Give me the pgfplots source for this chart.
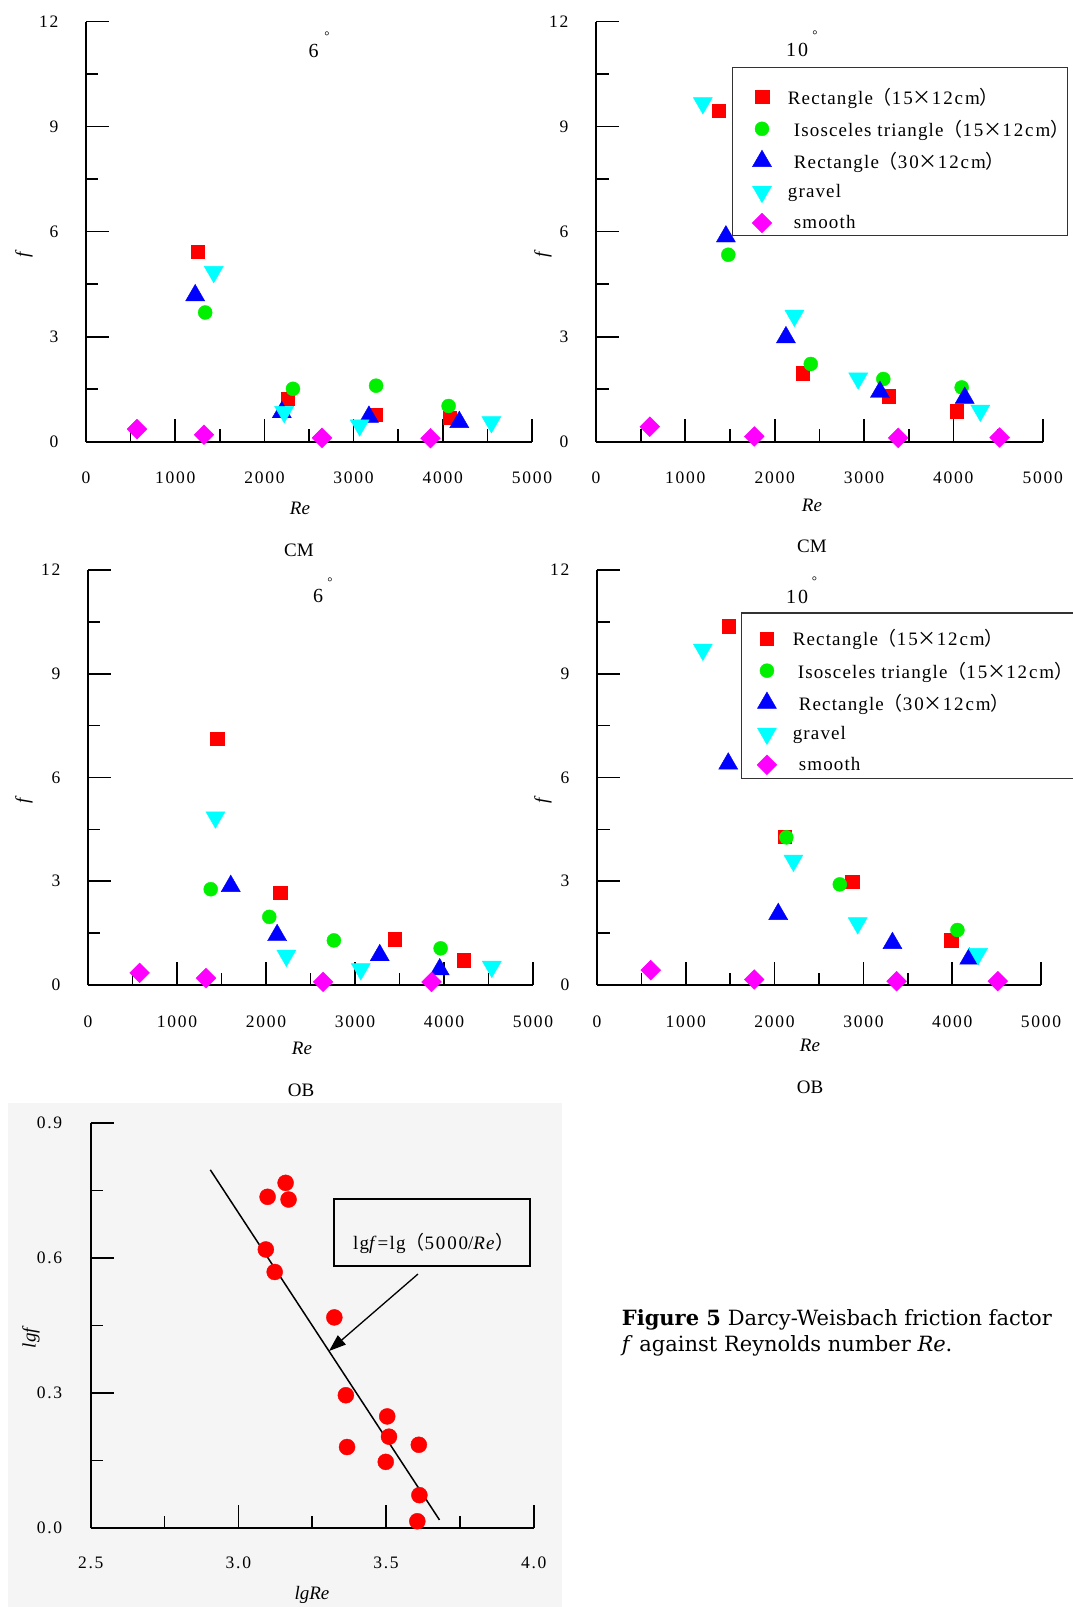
\documentclass[border=0pt]{standalone}
\usepackage{fontspec}
\setmainfont{Liberation Serif}
\newfontfamily\tkfamily[LetterSpace=10]{Liberation Serif}
\newfontfamily\lgfamily[LetterSpace=6]{Liberation Serif}
\newfontfamily\cjk{Noto Sans CJK SC}
\newfontfamily\capfamily{DejaVu Serif}
\usepackage{pgfplots}
\pgfplotsset{compat=1.18}
\usetikzlibrary{arrows.meta}

\definecolor{mred}{HTML}{FF0000}
\definecolor{mgreen}{HTML}{00F000}
\definecolor{mblue}{HTML}{0000FF}
\definecolor{mcyan}{HTML}{00FFFF}
\definecolor{mmag}{HTML}{FF00FF}

\newcommand\tkfont{\tkfamily\fontsize{17.5}{20}\selectfont}
\newcommand\lgfont{\lgfamily\fontsize{19}{22}\selectfont}
\newcommand\lbfont{\fontsize{19}{22}\selectfont}
\newcommand\angfont{\tkfamily\fontsize{20}{22}\selectfont}
\newcommand\lp{{\cjk （}}
\newcommand\rp{{\cjk ）}}
% (15x12cm) with wide digits and a full-width times sign
\newcommand\dims[2]{\lp{\tkfamily #1}\makebox[1em]{\cjk ×}{\tkfamily #2cm}\rp}

\pgfplotsset{
  base panel/.style={
    scale only axis,
    axis x line=bottom,
    axis y line=left,
    axis line style={-, line width=1.7pt, black},
    tick align=inside,
    major tick length=23pt,
    minor tick length=12.5pt,
    tick style={line width=1.7pt, black},
    minor x tick num=1,
    minor y tick num=1,
    xticklabel style={yshift=-27pt},
    yticklabel style={xshift=-24pt},
    ticklabel style={font=\tkfont},
    /pgf/number format/1000 sep={},
    /pgf/number format/assume math mode=true,
    clip=false,
  },
  f panel/.style={
    base panel,
    xmin=0, xmax=5000, ymin=0, ymax=12,
    xtick={0,1000,...,5000},
    ytick={0,3,6,9,12},
    legend cell align=left,
  },
  sq/.style={only marks, mark=square*, mark size=6.7pt, color=mred},
  ci/.style={only marks, mark=*, mark size=7pt, color=mgreen},
  up/.style={only marks, mark=triangle*, mark size=11pt, color=mblue},
  dn/.style={only marks, mark=triangle*, mark size=11pt, mark options={rotate=180}, color=mcyan},
  di/.style={only marks, mark=square*, mark size=7pt, mark options={rotate=45}, color=mmag},
  % the frame of the legend is drawn apart, so that it can sit where the reference has it
  box legend/.style={
    legend style={
      at={(axis cs:#1)}, anchor=north west,
      draw=none, fill=none,
      font=\lgfont, inner sep=0pt, row sep=10.4pt,
      /tikz/every odd column/.append style={column sep=14pt}
    }
  },
}

\begin{document}
\begin{tikzpicture}
\useasboundingbox (0pt,0pt) rectangle (1072pt,-1607pt);
\fill[black!4] (8pt,-1103pt) rectangle (562pt,-1607pt);

% CM, 6 degrees
\begin{axis}[f panel, width=446pt, height=420.2pt, at={(86pt,-441.7pt)}]
  \addplot[sq] coordinates {(1252,5.43) (2264,1.22) (3244,0.77) (4080,0.68)};
  \addplot[ci] coordinates {(1336,3.69) (2320,1.51) (3252,1.60) (4065,1.02)};
  \addplot[up] coordinates {(1224,4.18) (2195,0.84) (3172,0.71) (4185,0.56)};
  \addplot[dn] coordinates {(1432,4.85) (2222,0.85) (3068,0.47) (4545,0.56)};
  \addplot[di] coordinates {(572,0.36) (1323,0.20) (2646,0.11) (3862,0.10)};
\end{axis}

% CM, 10 degrees
\begin{axis}[f panel, width=446.7pt, height=420.2pt, at={(596pt,-441.7pt)},
  box legend={1745,10.17}]
  \addplot[sq] coordinates {(1375,9.45) (2316,1.96) (3277,1.30) (4038,0.87)};
  \addlegendentry{Rectangle\dims{15}{12}}
  \addplot[ci] coordinates {(1481,5.34) (2404,2.22) (3216,1.79) (4093,1.55)};
  \addlegendentry{\hspace{6pt}Isosceles triangle\dims{15}{12}}
  \addplot[up] coordinates {(1454,5.86) (2126,2.98) (3178,1.42) (4127,1.25)};
  \addlegendentry{\hspace{6pt}Rectangle\dims{30}{12}}
  \addplot[dn] coordinates {(1196,9.67) (2221,3.60) (2935,1.81) (4302,0.89)};
  \addlegendentry{gravel}
  \addplot[di] coordinates {(602,0.43) (1772,0.15) (3383,0.11) (4518,0.12)};
  \addlegendentry{\hspace{6pt}smooth}
\end{axis}

% OB, 10 degrees
\begin{axis}[f panel, width=445pt, height=415pt, at={(88pt,-985pt)}]
  \addplot[sq] coordinates {(1452,7.13) (2161,2.67) (3445,1.32) (4224,0.72)};
  \addplot[ci] coordinates {(1379,2.77) (2037,1.97) (2763,1.29) (3962,1.06)};
  \addplot[up] coordinates {(1604,2.86) (2125,1.44) (3278,0.86) (3952,0.45)};
  \addplot[dn] coordinates {(1432,4.85) (2229,0.85) (3065,0.46) (4537,0.53)};
  \addplot[di] coordinates {(580,0.35) (1326,0.20) (2642,0.09) (3860,0.09)};
\end{axis}

% OB, 10 degrees
\begin{axis}[f panel, width=444pt, height=415pt, at={(597pt,-985pt)},
  box legend={1800,10.34}]
  \addplot[sq] coordinates {(1485,10.37) (2117,4.29) (2875,2.99) (3990,1.30)};
  \addlegendentry{Rectangle\dims{15}{12}}
  \addplot[ci] coordinates {(2132,4.27) (2734,2.91) (4059,1.59)};
  \addlegendentry{\hspace{5pt}Isosceles triangle\dims{15}{12}}
  \addplot[up] coordinates {(1478,6.40) (2041,2.05) (3327,1.21) (4192,0.76)};
  \addlegendentry{\hspace{6pt}Rectangle\dims{30}{12}}
  \addplot[dn] coordinates {(1192,9.70) (2212,3.60) (2936,1.79) (4291,0.90)};
  \addlegendentry{gravel}
  \addplot[di] coordinates {(605,0.43) (1771,0.16) (3374,0.11) (4514,0.11)};
  \addlegendentry{\hspace{6pt}smooth}
\end{axis}

% lg f against lg Re
\begin{axis}[base panel, width=443pt, height=405pt, at={(90.7pt,-1528pt)},
  xmin=2.5, xmax=4.0, ymin=0, ymax=0.9,
  xtick={2.5,3.0,3.5,4.0}, ytick={0,0.3,0.6,0.9},
  xticklabel style={yshift=2pt},
  yticklabel style={xshift=-1pt},
  /pgf/number format/.cd, fixed, fixed zerofill, precision=1]
  \addplot[only marks, mark=*, mark size=8pt, color=mred] coordinates {
    (3.099,0.736) (3.160,0.767) (3.170,0.730) (3.093,0.619) (3.123,0.569)
    (3.325,0.468) (3.364,0.295) (3.504,0.248) (3.510,0.203) (3.368,0.180)
    (3.611,0.185) (3.499,0.147) (3.613,0.073) (3.606,0.015)};
  \addplot[black, line width=1.5pt, mark=none] coordinates {(2.905,0.796) (3.681,0.018)};
\end{axis}

\begin{scope}[x=1pt, y=-1pt]
  % legend frames
  \draw[black!80, line width=1.3pt] (732.7,67.8) rectangle (1067.5,235.3);
  \draw[black!80, line width=1.3pt] (741.4,613) rectangle (1090,778.3);
  % panel captions
  \node[font=\angfont] at (313.6,51) {6};
  \node[font=\fontsize{13}{14}\selectfont] at (327,36) {°};
  \node[font=\angfont] at (797,50) {10};
  \node[font=\fontsize{13}{14}\selectfont] at (815,35) {°};
  \node[font=\angfont] at (318,596) {6};
  \node[font=\fontsize{13}{14}\selectfont] at (330,582) {°};
  \node[font=\angfont] at (797,597) {10};
  \node[font=\fontsize{13}{14}\selectfont] at (814.5,581.5) {°};
  % axis labels
  \node[font=\lbfont] at (300,508) {\textit{Re}};
  \node[font=\lbfont] at (812,505) {\textit{Re}};
  \node[font=\lbfont] at (302,1048) {\textit{Re}};
  \node[font=\lbfont] at (810,1045) {\textit{Re}};
  \node[font=\lbfont] at (299,550) {CM};
  \node[font=\lbfont] at (812,546) {CM};
  \node[font=\lbfont] at (301,1090) {OB};
  \node[font=\lbfont] at (810,1087) {OB};
  \node[font=\lbfont, rotate=90] at (24,254) {\textit{f}};
  \node[font=\lbfont, rotate=90] at (543,254) {\textit{f}};
  \node[font=\lbfont, rotate=90] at (24,800) {\textit{f}};
  \node[font=\lbfont, rotate=90] at (543,800) {\textit{f}};
  \node[font=\lbfont] at (312,1595) {\textit{lgRe}};
  \node[font=\lbfont, rotate=90] at (31,1337) {\textit{lgf}};
  % formula box and arrow
  \draw[black, line width=1.3pt] (334,1199) rectangle (530,1266);
  \node[font=\lgfamily\fontsize{19}{21}\selectfont] at (434,1243)
    {lg\textit{f}=lg\lp{\tkfamily 5000}/\textit{Re}\rp};
  \draw[black, line width=1.3pt, -{Triangle[length=17pt, width=12pt]}] (418,1274) -- (329,1351);
  % figure caption
  \node[anchor=base west, inner sep=0pt, font=\capfamily\fontsize{21}{26}\selectfont]
    at (621.7,1325) {\textbf{Figure 5} Darcy-Weisbach friction factor};
  \node[anchor=base west, inner sep=0pt, font=\capfamily\fontsize{21}{26}\selectfont]
    at (621.7,1351) {\textit{f} against Reynolds number \textit{Re}.};
\end{scope}
\end{tikzpicture}
\end{document}
